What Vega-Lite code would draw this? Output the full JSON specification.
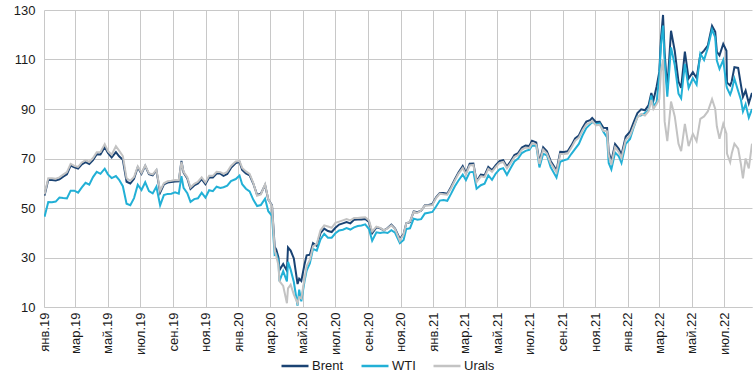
{
  "$schema": "https://vega.github.io/schema/vega-lite/v6.json",
  "width": 708,
  "height": 297,
  "autosize": {"type": "none"},
  "padding": {"left": 44, "top": 10, "right": 4, "bottom": 71},
  "background": "white",
  "config": {
    "font": "Liberation Sans",
    "view": {"stroke": null},
    "axis": {"labelFont": "Liberation Sans", "labelColor": "#1a1a1a", "gridColor": "#c8c8c8", "gridWidth": 1, "domainColor": "#c8c8c8", "ticks": false, "title": null}
  },
  "data": {
    "values": [
      {"d":"2019-01-02","Brent":55.0,"WTI":46.5,"Urals":55.5},
      {"d":"2019-01-09","Brent":61.4,"WTI":52.4,"Urals":62.0},
      {"d":"2019-01-16","Brent":61.3,"WTI":52.3,"Urals":62.0},
      {"d":"2019-01-23","Brent":61.1,"WTI":52.6,"Urals":61.8},
      {"d":"2019-01-30","Brent":61.6,"WTI":54.2,"Urals":62.4},
      {"d":"2019-02-06","Brent":62.7,"WTI":54.0,"Urals":63.5},
      {"d":"2019-02-13","Brent":63.6,"WTI":53.9,"Urals":64.5},
      {"d":"2019-02-20","Brent":67.1,"WTI":57.0,"Urals":67.8},
      {"d":"2019-02-27","Brent":66.4,"WTI":57.0,"Urals":67.0},
      {"d":"2019-03-06","Brent":65.9,"WTI":56.2,"Urals":66.6},
      {"d":"2019-03-13","Brent":67.6,"WTI":58.3,"Urals":68.4},
      {"d":"2019-03-20","Brent":68.5,"WTI":60.2,"Urals":69.3},
      {"d":"2019-03-27","Brent":67.8,"WTI":59.4,"Urals":68.6},
      {"d":"2019-04-03","Brent":69.3,"WTI":62.5,"Urals":70.2},
      {"d":"2019-04-10","Brent":71.7,"WTI":64.6,"Urals":72.5},
      {"d":"2019-04-17","Brent":71.6,"WTI":63.8,"Urals":72.6},
      {"d":"2019-04-25","Brent":74.6,"WTI":65.9,"Urals":75.8},
      {"d":"2019-05-01","Brent":72.2,"WTI":63.6,"Urals":73.0},
      {"d":"2019-05-08","Brent":70.4,"WTI":62.1,"Urals":71.5},
      {"d":"2019-05-16","Brent":72.6,"WTI":62.9,"Urals":75.0},
      {"d":"2019-05-22","Brent":70.9,"WTI":61.4,"Urals":73.2},
      {"d":"2019-05-29","Brent":69.5,"WTI":58.8,"Urals":71.0},
      {"d":"2019-06-05","Brent":60.6,"WTI":51.7,"Urals":62.0},
      {"d":"2019-06-12","Brent":59.9,"WTI":51.1,"Urals":61.0},
      {"d":"2019-06-19","Brent":61.8,"WTI":54.0,"Urals":62.5},
      {"d":"2019-06-26","Brent":66.5,"WTI":59.4,"Urals":66.8},
      {"d":"2019-07-03","Brent":63.8,"WTI":57.3,"Urals":64.2},
      {"d":"2019-07-10","Brent":67.0,"WTI":60.4,"Urals":67.2},
      {"d":"2019-07-17","Brent":63.7,"WTI":56.8,"Urals":64.0},
      {"d":"2019-07-24","Brent":63.2,"WTI":55.9,"Urals":63.6},
      {"d":"2019-07-31","Brent":65.2,"WTI":58.6,"Urals":65.4},
      {"d":"2019-08-07","Brent":56.2,"WTI":51.1,"Urals":57.0},
      {"d":"2019-08-14","Brent":59.5,"WTI":55.2,"Urals":60.0},
      {"d":"2019-08-21","Brent":60.3,"WTI":55.7,"Urals":60.8},
      {"d":"2019-08-28","Brent":60.5,"WTI":55.8,"Urals":61.0},
      {"d":"2019-09-04","Brent":60.7,"WTI":56.3,"Urals":61.3},
      {"d":"2019-09-11","Brent":60.8,"WTI":55.8,"Urals":61.2},
      {"d":"2019-09-16","Brent":69.0,"WTI":62.9,"Urals":68.6},
      {"d":"2019-09-20","Brent":64.3,"WTI":58.1,"Urals":64.6},
      {"d":"2019-09-27","Brent":61.9,"WTI":56.0,"Urals":62.4},
      {"d":"2019-10-03","Brent":57.7,"WTI":52.5,"Urals":58.3},
      {"d":"2019-10-10","Brent":59.1,"WTI":53.6,"Urals":59.8},
      {"d":"2019-10-17","Brent":59.9,"WTI":53.9,"Urals":60.6},
      {"d":"2019-10-24","Brent":61.7,"WTI":56.2,"Urals":62.4},
      {"d":"2019-10-31","Brent":59.6,"WTI":54.2,"Urals":60.3},
      {"d":"2019-11-07","Brent":62.3,"WTI":57.2,"Urals":63.0},
      {"d":"2019-11-14","Brent":62.3,"WTI":56.8,"Urals":63.0},
      {"d":"2019-11-21","Brent":63.9,"WTI":58.6,"Urals":64.6},
      {"d":"2019-11-28","Brent":63.9,"WTI":58.1,"Urals":64.5},
      {"d":"2019-12-04","Brent":63.0,"WTI":58.4,"Urals":63.8},
      {"d":"2019-12-11","Brent":63.7,"WTI":59.0,"Urals":64.6},
      {"d":"2019-12-18","Brent":66.2,"WTI":60.9,"Urals":67.0},
      {"d":"2019-12-27","Brent":68.2,"WTI":61.7,"Urals":68.8},
      {"d":"2020-01-03","Brent":68.6,"WTI":63.1,"Urals":69.0},
      {"d":"2020-01-08","Brent":65.4,"WTI":59.6,"Urals":66.2},
      {"d":"2020-01-15","Brent":64.0,"WTI":57.8,"Urals":64.8},
      {"d":"2020-01-22","Brent":63.2,"WTI":56.7,"Urals":63.8},
      {"d":"2020-01-29","Brent":59.8,"WTI":53.3,"Urals":60.0},
      {"d":"2020-02-05","Brent":55.3,"WTI":50.8,"Urals":55.0},
      {"d":"2020-02-12","Brent":55.8,"WTI":51.2,"Urals":55.5},
      {"d":"2020-02-20","Brent":59.3,"WTI":53.8,"Urals":59.6},
      {"d":"2020-02-26","Brent":53.4,"WTI":48.7,"Urals":53.5},
      {"d":"2020-03-04","Brent":51.1,"WTI":46.8,"Urals":50.8},
      {"d":"2020-03-09","Brent":34.4,"WTI":31.1,"Urals":33.0},
      {"d":"2020-03-12","Brent":33.2,"WTI":31.5,"Urals":30.5},
      {"d":"2020-03-16","Brent":30.1,"WTI":28.7,"Urals":27.0},
      {"d":"2020-03-18","Brent":24.9,"WTI":20.4,"Urals":20.5},
      {"d":"2020-03-25","Brent":27.4,"WTI":24.5,"Urals":18.5},
      {"d":"2020-04-01","Brent":24.7,"WTI":20.3,"Urals":11.5},
      {"d":"2020-04-03","Brent":34.1,"WTI":28.3,"Urals":17.5},
      {"d":"2020-04-08","Brent":32.8,"WTI":25.1,"Urals":19.0},
      {"d":"2020-04-14","Brent":29.6,"WTI":20.1,"Urals":15.0},
      {"d":"2020-04-21","Brent":19.3,"WTI":10.5,"Urals":11.5},
      {"d":"2020-04-24","Brent":21.4,"WTI":17.0,"Urals":14.0},
      {"d":"2020-04-28","Brent":20.5,"WTI":12.3,"Urals":13.5},
      {"d":"2020-05-04","Brent":27.2,"WTI":20.4,"Urals":21.5},
      {"d":"2020-05-08","Brent":30.9,"WTI":24.7,"Urals":26.5},
      {"d":"2020-05-14","Brent":31.1,"WTI":27.6,"Urals":29.0},
      {"d":"2020-05-20","Brent":35.8,"WTI":33.5,"Urals":34.5},
      {"d":"2020-05-27","Brent":34.7,"WTI":32.8,"Urals":35.5},
      {"d":"2020-06-03","Brent":39.8,"WTI":37.3,"Urals":41.0},
      {"d":"2020-06-10","Brent":41.7,"WTI":39.6,"Urals":43.0},
      {"d":"2020-06-17","Brent":40.7,"WTI":38.0,"Urals":42.5},
      {"d":"2020-06-24","Brent":40.3,"WTI":38.0,"Urals":42.0},
      {"d":"2020-07-01","Brent":42.0,"WTI":39.8,"Urals":44.0},
      {"d":"2020-07-08","Brent":43.3,"WTI":40.9,"Urals":44.5},
      {"d":"2020-07-15","Brent":43.8,"WTI":41.2,"Urals":45.0},
      {"d":"2020-07-22","Brent":44.3,"WTI":41.9,"Urals":45.5},
      {"d":"2020-07-29","Brent":43.8,"WTI":41.3,"Urals":45.0},
      {"d":"2020-08-05","Brent":45.2,"WTI":42.2,"Urals":46.0},
      {"d":"2020-08-12","Brent":45.4,"WTI":42.7,"Urals":46.0},
      {"d":"2020-08-19","Brent":45.4,"WTI":42.9,"Urals":46.2},
      {"d":"2020-08-26","Brent":45.6,"WTI":43.4,"Urals":46.3},
      {"d":"2020-09-02","Brent":44.4,"WTI":41.5,"Urals":45.0},
      {"d":"2020-09-08","Brent":39.8,"WTI":36.8,"Urals":40.5},
      {"d":"2020-09-16","Brent":42.2,"WTI":40.2,"Urals":42.5},
      {"d":"2020-09-23","Brent":41.8,"WTI":39.9,"Urals":42.0},
      {"d":"2020-09-30","Brent":41.0,"WTI":40.2,"Urals":41.0},
      {"d":"2020-10-07","Brent":41.9,"WTI":39.9,"Urals":41.8},
      {"d":"2020-10-14","Brent":43.3,"WTI":41.0,"Urals":43.0},
      {"d":"2020-10-21","Brent":41.7,"WTI":40.0,"Urals":41.5},
      {"d":"2020-10-30","Brent":37.5,"WTI":35.8,"Urals":36.8},
      {"d":"2020-11-06","Brent":39.5,"WTI":37.1,"Urals":39.3},
      {"d":"2020-11-11","Brent":43.8,"WTI":41.5,"Urals":43.8},
      {"d":"2020-11-18","Brent":44.3,"WTI":41.8,"Urals":44.5},
      {"d":"2020-11-25","Brent":48.6,"WTI":45.7,"Urals":48.5},
      {"d":"2020-12-02","Brent":48.3,"WTI":45.3,"Urals":48.0},
      {"d":"2020-12-09","Brent":48.9,"WTI":45.5,"Urals":49.0},
      {"d":"2020-12-16","Brent":51.1,"WTI":47.8,"Urals":51.0},
      {"d":"2020-12-23","Brent":51.2,"WTI":48.1,"Urals":51.0},
      {"d":"2020-12-30","Brent":51.6,"WTI":48.4,"Urals":51.2},
      {"d":"2021-01-06","Brent":54.3,"WTI":50.6,"Urals":54.0},
      {"d":"2021-01-13","Brent":56.1,"WTI":53.0,"Urals":55.8},
      {"d":"2021-01-20","Brent":56.1,"WTI":53.2,"Urals":55.6},
      {"d":"2021-01-27","Brent":55.8,"WTI":52.9,"Urals":55.4},
      {"d":"2021-02-03","Brent":58.5,"WTI":55.7,"Urals":58.0},
      {"d":"2021-02-10","Brent":61.5,"WTI":58.7,"Urals":61.0},
      {"d":"2021-02-17","Brent":64.3,"WTI":61.1,"Urals":63.8},
      {"d":"2021-02-25","Brent":66.9,"WTI":63.5,"Urals":66.2},
      {"d":"2021-03-03","Brent":64.1,"WTI":61.3,"Urals":63.6},
      {"d":"2021-03-10","Brent":67.9,"WTI":64.4,"Urals":67.2},
      {"d":"2021-03-17","Brent":68.0,"WTI":64.6,"Urals":67.4},
      {"d":"2021-03-23","Brent":60.8,"WTI":57.8,"Urals":60.5},
      {"d":"2021-03-31","Brent":63.5,"WTI":59.2,"Urals":62.8},
      {"d":"2021-04-07","Brent":63.2,"WTI":59.8,"Urals":62.5},
      {"d":"2021-04-14","Brent":66.6,"WTI":63.2,"Urals":65.8},
      {"d":"2021-04-21","Brent":65.3,"WTI":61.4,"Urals":64.6},
      {"d":"2021-04-28","Brent":67.3,"WTI":63.9,"Urals":66.6},
      {"d":"2021-05-05","Brent":68.9,"WTI":65.6,"Urals":68.2},
      {"d":"2021-05-12","Brent":69.3,"WTI":66.1,"Urals":68.6},
      {"d":"2021-05-19","Brent":66.7,"WTI":63.4,"Urals":66.0},
      {"d":"2021-05-26","Brent":68.9,"WTI":66.2,"Urals":68.2},
      {"d":"2021-06-02","Brent":71.4,"WTI":68.8,"Urals":70.6},
      {"d":"2021-06-09","Brent":72.2,"WTI":70.0,"Urals":71.4},
      {"d":"2021-06-16","Brent":74.4,"WTI":72.2,"Urals":73.6},
      {"d":"2021-06-23","Brent":75.2,"WTI":73.1,"Urals":74.4},
      {"d":"2021-06-30","Brent":75.1,"WTI":73.5,"Urals":74.2},
      {"d":"2021-07-05","Brent":77.2,"WTI":75.2,"Urals":76.2},
      {"d":"2021-07-13","Brent":76.5,"WTI":75.3,"Urals":75.6},
      {"d":"2021-07-19","Brent":68.6,"WTI":66.4,"Urals":67.8},
      {"d":"2021-07-26","Brent":74.5,"WTI":71.9,"Urals":73.6},
      {"d":"2021-08-02","Brent":72.9,"WTI":71.3,"Urals":72.0},
      {"d":"2021-08-09","Brent":69.0,"WTI":66.5,"Urals":68.2},
      {"d":"2021-08-20","Brent":65.2,"WTI":62.3,"Urals":64.4},
      {"d":"2021-08-27","Brent":72.7,"WTI":68.7,"Urals":71.8},
      {"d":"2021-09-03","Brent":72.6,"WTI":69.3,"Urals":71.8},
      {"d":"2021-09-10","Brent":72.9,"WTI":69.7,"Urals":72.0},
      {"d":"2021-09-17","Brent":75.3,"WTI":71.9,"Urals":74.4},
      {"d":"2021-09-24","Brent":78.1,"WTI":73.9,"Urals":77.2},
      {"d":"2021-10-01","Brent":79.3,"WTI":75.9,"Urals":78.4},
      {"d":"2021-10-08","Brent":82.4,"WTI":79.4,"Urals":81.4},
      {"d":"2021-10-15","Brent":84.9,"WTI":82.3,"Urals":83.8},
      {"d":"2021-10-22","Brent":85.5,"WTI":83.8,"Urals":84.4},
      {"d":"2021-10-26","Brent":86.4,"WTI":84.7,"Urals":85.2},
      {"d":"2021-11-02","Brent":84.7,"WTI":83.9,"Urals":83.4},
      {"d":"2021-11-09","Brent":84.8,"WTI":84.2,"Urals":83.6},
      {"d":"2021-11-16","Brent":82.4,"WTI":80.8,"Urals":81.2},
      {"d":"2021-11-23","Brent":82.3,"WTI":78.5,"Urals":81.0},
      {"d":"2021-11-26","Brent":72.7,"WTI":68.2,"Urals":71.4},
      {"d":"2021-12-01","Brent":68.9,"WTI":65.6,"Urals":67.6},
      {"d":"2021-12-08","Brent":75.8,"WTI":72.4,"Urals":74.6},
      {"d":"2021-12-15","Brent":73.9,"WTI":70.9,"Urals":72.6},
      {"d":"2021-12-20","Brent":71.5,"WTI":68.2,"Urals":70.2},
      {"d":"2021-12-28","Brent":78.9,"WTI":75.9,"Urals":77.6},
      {"d":"2022-01-05","Brent":80.8,"WTI":77.9,"Urals":79.2},
      {"d":"2022-01-12","Brent":84.7,"WTI":82.6,"Urals":83.0},
      {"d":"2022-01-19","Brent":88.4,"WTI":86.9,"Urals":86.6},
      {"d":"2022-01-26","Brent":89.9,"WTI":87.4,"Urals":88.0},
      {"d":"2022-02-02","Brent":89.5,"WTI":88.3,"Urals":87.4},
      {"d":"2022-02-09","Brent":91.6,"WTI":89.7,"Urals":89.2},
      {"d":"2022-02-14","Brent":96.5,"WTI":95.5,"Urals":93.6},
      {"d":"2022-02-18","Brent":93.5,"WTI":91.1,"Urals":90.0},
      {"d":"2022-02-24","Brent":99.1,"WTI":92.8,"Urals":92.0},
      {"d":"2022-03-01","Brent":105.0,"WTI":103.4,"Urals":94.0},
      {"d":"2022-03-04","Brent":118.1,"WTI":115.7,"Urals":105.0},
      {"d":"2022-03-08","Brent":128.0,"WTI":123.7,"Urals":110.0},
      {"d":"2022-03-11","Brent":112.7,"WTI":109.3,"Urals":85.0},
      {"d":"2022-03-16","Brent":98.0,"WTI":95.0,"Urals":77.0},
      {"d":"2022-03-23","Brent":121.6,"WTI":114.9,"Urals":93.0},
      {"d":"2022-03-30","Brent":113.5,"WTI":107.8,"Urals":87.0},
      {"d":"2022-04-06","Brent":101.1,"WTI":96.2,"Urals":76.0},
      {"d":"2022-04-11","Brent":98.5,"WTI":94.3,"Urals":73.0},
      {"d":"2022-04-18","Brent":113.2,"WTI":108.2,"Urals":84.0},
      {"d":"2022-04-25","Brent":102.3,"WTI":98.5,"Urals":75.0},
      {"d":"2022-05-03","Brent":104.9,"WTI":102.4,"Urals":80.0},
      {"d":"2022-05-10","Brent":102.5,"WTI":99.8,"Urals":77.0},
      {"d":"2022-05-17","Brent":112.0,"WTI":112.4,"Urals":86.0},
      {"d":"2022-05-24","Brent":113.6,"WTI":109.8,"Urals":87.0},
      {"d":"2022-05-31","Brent":115.6,"WTI":114.7,"Urals":89.0},
      {"d":"2022-06-08","Brent":123.6,"WTI":122.1,"Urals":94.0},
      {"d":"2022-06-14","Brent":121.2,"WTI":118.9,"Urals":90.0},
      {"d":"2022-06-17","Brent":113.1,"WTI":109.6,"Urals":83.0},
      {"d":"2022-06-22","Brent":111.7,"WTI":106.2,"Urals":78.0},
      {"d":"2022-06-29","Brent":116.3,"WTI":109.8,"Urals":84.0},
      {"d":"2022-07-05","Brent":113.5,"WTI":99.5,"Urals":80.0},
      {"d":"2022-07-06","Brent":100.7,"WTI":98.5,"Urals":72.0},
      {"d":"2022-07-12","Brent":99.5,"WTI":95.8,"Urals":68.5},
      {"d":"2022-07-15","Brent":101.2,"WTI":97.6,"Urals":72.0},
      {"d":"2022-07-20","Brent":106.9,"WTI":102.3,"Urals":76.0},
      {"d":"2022-07-27","Brent":106.6,"WTI":97.3,"Urals":74.0},
      {"d":"2022-08-01","Brent":100.0,"WTI":93.9,"Urals":68.0},
      {"d":"2022-08-05","Brent":94.9,"WTI":89.0,"Urals":62.0},
      {"d":"2022-08-10","Brent":97.4,"WTI":91.9,"Urals":70.0},
      {"d":"2022-08-16","Brent":92.3,"WTI":86.5,"Urals":66.0},
      {"d":"2022-08-22","Brent":96.5,"WTI":90.0,"Urals":76.0}
    ]
  },
  "transform": [{"fold": ["Brent", "WTI", "Urals"], "as": ["series", "price"]}],
  "mark": {"type": "line", "strokeWidth": 2, "clip": true},
  "encoding": {
    "x": {
      "field": "d", "type": "temporal",
      "scale": {"type": "utc", "domain": [{"year": 2019, "month": 1, "date": 1, "utc": true}, {"year": 2022, "month": 8, "date": 22, "utc": true}]},
      "axis": {
        "tickCount": {"interval": "month", "step": 2},
        "labelExpr": "['янв','фев','мар','апр','май','июн','июл','авг','сен','окт','ноя','дек'][utcmonth(datum.value)] + '.' + utcFormat(datum.value, '%y')",
        "labelAngle": -90, "labelAlign": "right", "labelBaseline": "middle",
        "labelFontSize": 13, "labelPadding": 5, "labelFlush": false, "labelOverlap": false,
        "grid": true, "domain": true
      }
    },
    "y": {
      "field": "price", "type": "quantitative",
      "scale": {"domain": [10, 130], "nice": false, "zero": false},
      "axis": {"values": [10, 30, 50, 70, 90, 110, 130], "labelFontSize": 13, "labelPadding": 9, "domain": false, "grid": true}
    },
    "color": {
      "field": "series", "type": "nominal",
      "scale": {"domain": ["Brent", "WTI", "Urals"], "range": ["#1a4373", "#22b0d6", "#c3c3c3"]},
      "legend": {
        "title": null, "orient": "none", "direction": "horizontal",
        "legendX": 236, "legendY": 341,
        "symbolType": "stroke", "symbolSize": 729, "symbolStrokeWidth": 2.5,
        "labelFont": "Liberation Sans", "labelFontSize": 13, "labelColor": "#1a1a1a",
        "labelOffset": 2, "columnPadding": 12
      }
    }
  }
}
